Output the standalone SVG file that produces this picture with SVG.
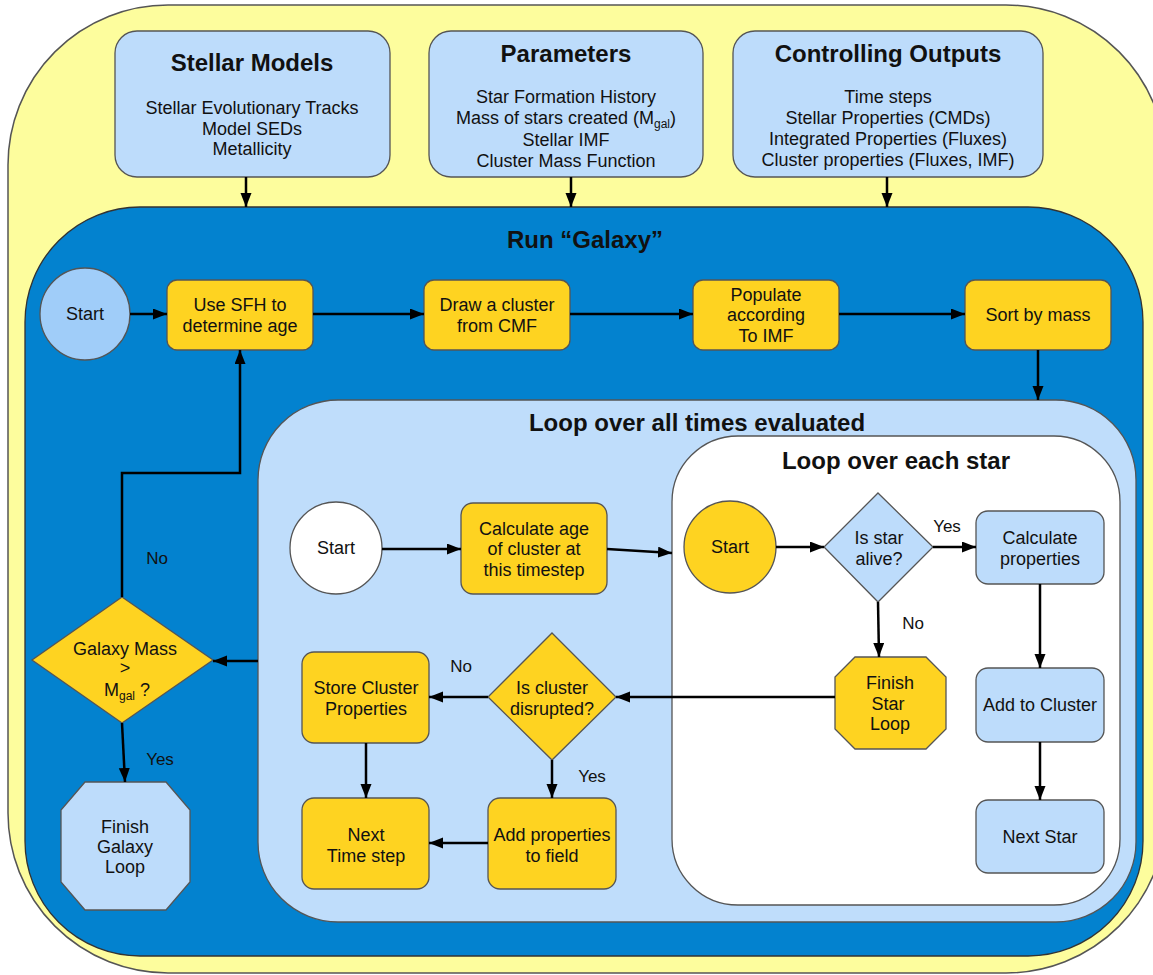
<svg xmlns="http://www.w3.org/2000/svg" width="1153" height="975" viewBox="0 0 1153 975">
<defs>
<marker id="arr" markerUnits="userSpaceOnUse" markerWidth="15" markerHeight="12" refX="14" refY="5.5" orient="auto">
<path d="M0,0 L14,5.5 L0,11 z" fill="#000"/>
</marker>
<style>
text{font-family:"Liberation Sans",Arial,sans-serif;fill:#111;text-anchor:middle}
.t{font-size:24px;font-weight:bold}
.b{font-size:18px}
.l{font-size:17px}
.sub{font-size:12px}
.lb{fill:#bddcfb;stroke:#555;stroke-width:1.3}
.yl{fill:#fed321;stroke:#555;stroke-width:1.3}
.c{fill:none;stroke:#000;stroke-width:2.5;marker-end:url(#arr)}
</style>
</defs>
<rect width="1153" height="975" fill="#fff"/>
<g id="frame">
<rect x="8" y="5" width="1158" height="968" rx="160" fill="#fdfd9d" stroke="#555" stroke-width="1.5"/>
<rect x="25" y="207" width="1118" height="749" rx="115" fill="#0382cf" stroke="#333" stroke-width="1.3"/>
<text class="t" x="585" y="248">Run “Galaxy”</text>
<rect x="258" y="400" width="878" height="522" rx="80" fill="#bfddfb" stroke="#555" stroke-width="1.3"/>
<text class="t" x="697" y="431">Loop over all times evaluated</text>
<rect x="672" y="436" width="448" height="469" rx="66" fill="#fff" stroke="#555" stroke-width="1.3"/>
<text class="t" x="896" y="469">Loop over each star</text>
</g>
<g id="stellar-models">
<rect class="lb" x="115" y="31" width="275" height="146" rx="22"/>
<text class="t" x="252" y="71">Stellar Models</text>
<text class="b" x="252" y="114">Stellar Evolutionary Tracks</text>
<text class="b" x="252" y="135">Model SEDs</text>
<text class="b" x="252" y="155">Metallicity</text>
</g>
<g id="parameters">
<rect class="lb" x="429" y="31" width="274" height="146" rx="22"/>
<text class="t" x="566" y="62">Parameters</text>
<text class="b" x="566" y="103">Star Formation History</text>
<text class="b" x="566" y="124">Mass of stars created (M<tspan class="sub" dy="4">gal</tspan><tspan dy="-4">)</tspan></text>
<text class="b" x="566" y="146">Stellar IMF</text>
<text class="b" x="566" y="167">Cluster Mass Function</text>
</g>
<g id="controlling-outputs">
<rect class="lb" x="733" y="31" width="310" height="146" rx="22"/>
<text class="t" x="888" y="62">Controlling Outputs</text>
<text class="b" x="888" y="103">Time steps</text>
<text class="b" x="888" y="124">Stellar Properties (CMDs)</text>
<text class="b" x="888" y="145">Integrated Properties (Fluxes)</text>
<text class="b" x="888" y="166">Cluster properties (Fluxes, IMF)</text>
</g>
<g id="galaxy-start">
<ellipse cx="85" cy="314" rx="45" ry="46" fill="#a0cdf9" stroke="#555" stroke-width="1.3"/>
<text class="b" x="85" y="320">Start</text>
</g>
<g id="use-sfh">
<rect class="yl" x="167" y="280" width="146" height="70" rx="10"/>
<text class="b" x="240" y="311">Use SFH to</text>
<text class="b" x="240" y="332">determine age</text>
</g>
<g id="draw-cluster">
<rect class="yl" x="424" y="280" width="146" height="70" rx="10"/>
<text class="b" x="497" y="311">Draw a cluster</text>
<text class="b" x="497" y="332">from CMF</text>
</g>
<g id="populate">
<rect class="yl" x="693" y="280" width="146" height="70" rx="10"/>
<text class="b" x="766" y="301">Populate</text>
<text class="b" x="766" y="321">according</text>
<text class="b" x="766" y="342">To IMF</text>
</g>
<g id="sort-mass">
<rect class="yl" x="965" y="280" width="146" height="70" rx="10"/>
<text class="b" x="1038" y="321">Sort by mass</text>
</g>
<g id="time-start">
<circle cx="336" cy="548" r="46" fill="#fff" stroke="#555" stroke-width="1.3"/>
<text class="b" x="336" y="554">Start</text>
</g>
<g id="calc-age">
<rect class="yl" x="461" y="503" width="146" height="91" rx="12"/>
<text class="b" x="534" y="535">Calculate age</text>
<text class="b" x="534" y="555">of cluster at</text>
<text class="b" x="534" y="576">this timestep</text>
</g>
<g id="is-disrupted">
<polygon class="yl" points="552,633 616,697 552,760 488,697"/>
<text class="b" x="552" y="694">Is cluster</text>
<text class="b" x="552" y="715">disrupted?</text>
</g>
<g id="store-cluster">
<rect class="yl" x="302" y="652" width="127" height="91" rx="12"/>
<text class="b" x="366" y="694">Store Cluster</text>
<text class="b" x="366" y="715">Properties</text>
</g>
<g id="next-time">
<rect class="yl" x="302" y="798" width="127" height="91" rx="12"/>
<text class="b" x="366" y="841">Next</text>
<text class="b" x="366" y="862">Time step</text>
</g>
<g id="add-field">
<rect class="yl" x="488" y="798" width="128" height="91" rx="12"/>
<text class="b" x="552" y="841">Add properties</text>
<text class="b" x="552" y="862">to field</text>
</g>
<g id="star-start">
<circle cx="730" cy="547" r="46" fill="#fed321" stroke="#555" stroke-width="1.3"/>
<text class="b" x="730" y="553">Start</text>
</g>
<g id="is-alive">
<polygon class="lb" points="878,493 933,547 878,602 824,547"/>
<text class="b" x="879" y="544">Is star</text>
<text class="b" x="879" y="565">alive?</text>
</g>
<g id="calc-props">
<rect class="lb" x="976" y="511" width="128" height="73" rx="12"/>
<text class="b" x="1040" y="544">Calculate</text>
<text class="b" x="1040" y="565">properties</text>
</g>
<g id="add-cluster">
<rect class="lb" x="976" y="668" width="128" height="74" rx="12"/>
<text class="b" x="1040" y="711">Add to Cluster</text>
</g>
<g id="next-star">
<rect class="lb" x="976" y="800" width="128" height="73" rx="12"/>
<text class="b" x="1040" y="843">Next Star</text>
</g>
<g id="finish-star">
<polygon class="yl" points="855,657 926,657 946,677 946,729 926,749 855,749 835,729 835,677"/>
<text class="b" x="890" y="689">Finish</text>
<text class="b" x="888" y="710">Star</text>
<text class="b" x="890" y="730">Loop</text>
</g>
<g id="galaxy-mass">
<polygon class="yl" points="122,597 213,660 122,723 32,660"/>
<text class="b" x="125" y="655">Galaxy Mass</text>
<text class="b" x="125" y="674">&gt;</text>
<text class="b" x="127" y="696">M<tspan class="sub" dy="4">gal</tspan><tspan dy="-4"> ?</tspan></text>
</g>
<g id="finish-galaxy">
<polygon class="lb" points="85,782 166,782 190,810 190,882 166,910 85,910 61,882 61,810"/>
<text class="b" x="125" y="833">Finish</text>
<text class="b" x="125" y="853">Galaxy</text>
<text class="b" x="125" y="873">Loop</text>
</g>
<g id="connectors">
<path class="c" d="M246,177 V207"/>
<path class="c" d="M571,177 V207"/>
<path class="c" d="M887,177 V207"/>
<path class="c" d="M130,314 H167"/>
<path class="c" d="M313,314 H424"/>
<path class="c" d="M570,314 H693"/>
<path class="c" d="M839,314 H965"/>
<path class="c" d="M1038,350 V400"/>
<path class="c" d="M382,549 H461"/>
<path class="c" d="M607,549 L672,553"/>
<path class="c" d="M776,547 H824"/>
<path class="c" d="M933,547 H976"/>
<path class="c" d="M878,602 L879,657"/>
<path class="c" d="M1040,584 V668"/>
<path class="c" d="M1040,742 V800"/>
<path class="c" d="M835,697 H616"/>
<path class="c" d="M488,697 H429"/>
<path class="c" d="M552,760 V798"/>
<path class="c" d="M366,743 V798"/>
<path class="c" d="M488,843 H429"/>
<path class="c" d="M258,661 H213"/>
<path class="c" d="M122,723 L125,782"/>
<path class="c" d="M122,597 V473 H240 V350"/>
<text class="l" x="947" y="532">Yes</text>
<text class="l" x="913" y="629">No</text>
<text class="l" x="461" y="672">No</text>
<text class="l" x="592" y="782">Yes</text>
<text class="l" x="160" y="765">Yes</text>
<text class="l" x="157" y="564">No</text>
</g>
</svg>
